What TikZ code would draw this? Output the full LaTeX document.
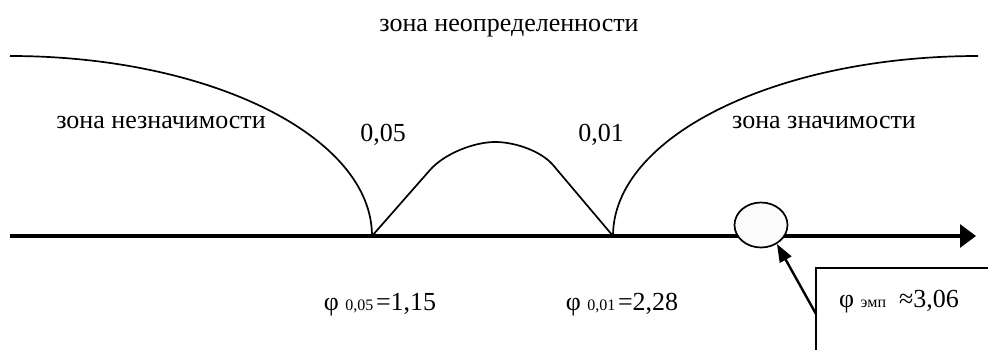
\documentclass[tikz,border=0pt]{standalone}
\usepackage{fontspec}
\setmainfont{Liberation Serif}
\usetikzlibrary{arrows.meta,shapes.geometric}
\tikzset{
  lbl/.style={inner sep=0pt, font=\fontsize{26}{30}\selectfont},
  curve/.style={line width=1.7pt},
}
\newcommand{\sbs}[1]{{\fontsize{16}{18}\selectfont #1}}
\begin{document}
\begin{tikzpicture}[x=1pt,y=-1pt]
\useasboundingbox (0,0) rectangle (988,350);
% axis
\coordinate (a0) at (10,236);
\coordinate (a1) at (976,236);
\coordinate (p05) at (372,236);
\coordinate (p01) at (613,236);
\draw[line width=3.2pt,-{Triangle[length=16pt,width=23pt]}] (a0) -- (a1);
% left curve (quarter ellipse)
\coordinate (l0) at (10,56);
\draw[curve] (l0) arc[start angle=90,end angle=0,x radius=362,y radius=-180];
% right curve
\coordinate (r0) at (978,56);
\draw[curve] (r0) arc[start angle=90,end angle=180,x radius=365,y radius=-180];
% hump
\draw[curve] (p05) -- (430,170) .. controls (445,153) and (475,142) .. (495,142)
  .. controls (515,142) and (541,151) .. (553,165) -- (p01);
% labels
\node[lbl] (zu) at (509,28) {зона неопределенности};
\node[lbl] (zn) at (161,123) {зона незначимости};
\node[lbl] (zz) at (824,123) {зона значимости};
\node[lbl] (v05) at (383,135) {0,05};
\node[lbl] (v01) at (601,135) {0,01};
\node[lbl] (f05) at (380,305) {φ \sbs{0,05\,}=1,15};
\node[lbl] (f01) at (622,305) {φ \sbs{0,01\,}=2,28};
% empirical point
\node[draw,line width=1.7pt,fill=gray!3,ellipse,minimum width=53pt,minimum height=45pt,inner sep=0pt] (emp) at (761,225) {};
% box
\coordinate (bt) at (816,268);
\draw[line width=1.5pt] (816,352) -- (bt) -- (990,268);
\node[lbl] (fe) at (899,302) {φ \sbs{эмп}\ \ ≈3,06};
\coordinate (as) at (816,314);
\draw[line width=2.4pt,-{Triangle[length=18pt,width=13pt]}] (as) -- (emp.-50);
\end{tikzpicture}
\end{document}
